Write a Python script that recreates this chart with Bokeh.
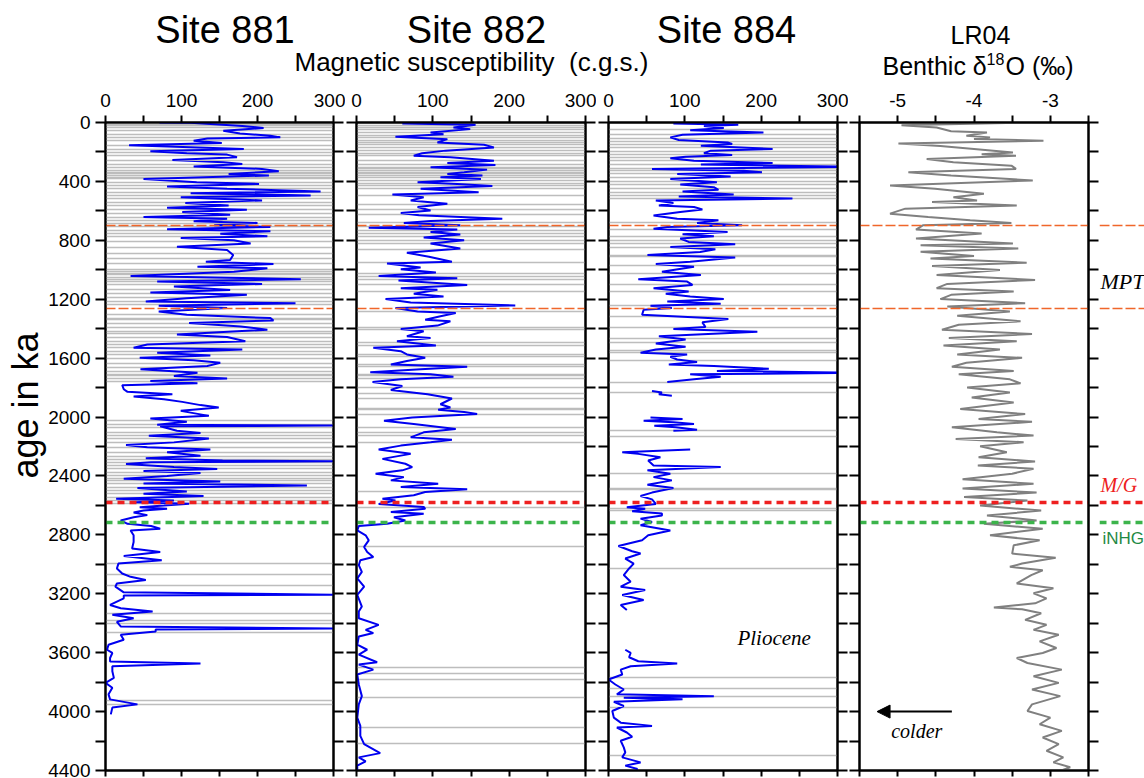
import math
from bokeh.plotting import figure
from bokeh.layouts import row, column
from bokeh.models import (Range1d, LinearAxis, FixedTicker, Label, Arrow,
                          NormalHead, CustomJSTickFormatter, Title)
from bokeh.embed import file_html
from bokeh.resources import INLINE

NaN = float("nan")

# ---------------- data (age in ka, value) ----------------
SITE881 = [(0,71),(2,112),(23,180),(38,208),(56,155),(74,177),(90,217),(101,230),(108,134),(124,116),(140,153),(155,31),(180,182),(196,59),(209,107),(218,160),(236,173),(254,88),(270,155),(281,180),(299,116),(315,206),(331,228),(349,162),(360,215),(383,50),(405,120),(417,202),(435,81),(450,160),(468,283),(480,112),(495,270),(507,99),(529,206),(547,105),(563,162),(579,81),(592,186),(608,101),(626,164),(642,50),(653,160),(671,116),(682,200),(698,143),(709,217),(725,81),(739,217),(755,151),(773,213),(784,99),(800,169),(822,191),(844,94),(866,160),(900,168),(934,164),(945,132),(961,221),(979,121),(990,213),(1013,169),(1042,33),(1050,125),(1065,257),(1080,68),(1096,206),(1114,90),(1137,164),(1154,59),(1170,186),(1193,107),(1215,53),(1227,250),(1244,70),(1260,160),(1283,70),(1305,107),(1328,217),(1344,221),(1362,110),(1385,178),(1407,213),(1440,94),(1456,160),(1485,184),(1508,55),(1530,37),(1541,180),(1564,68),(1582,138),(1598,45),(1614,116),(1632,151),(1654,134),(1676,46),(1699,121),(1721,90),(1739,160),(1755,59),(1771,121),(1784,22),(1811,24),(1829,29),(1845,88),(1861,37),(1879,77),(1897,101),(1919,125),(1935,149),(1958,99),(1970,112),(1992,136),(2010,59),(2032,107),(2052,68),(2058,300),(2063,72),(2093,94),(2109,125),(2127,57),(2145,136),(2172,90),(2190,27),(2205,55),(2221,138),(2239,81),(2262,125),(2279,53),(2295,154),(2301,300),(2307,60),(2318,27),(2340,90),(2352,147),(2367,50),(2380,125),(2401,81),(2419,24),(2437,151),(2452,50),(2464,265),(2482,42),(2505,107),(2520,50),(2536,129),(2554,14),(2566,90),(2578,40),(2588,110),(2601,77),(2612,45),(2622,81),(2635,50),(2648,37),(2666,55),(2680,37),(2702,20),(2725,29),(2740,60),(2758,72),(2770,33),(2803,37),(2848,37),(2893,35),(2916,72),(2943,24),(2972,74),(2995,17),(3028,15),(3062,22),(3085,33),(3107,53),(3130,15),(3152,13),(3190,24),(3206,300),(3212,24),(3231,24),(3276,6),(3298,20),(3321,62),(3343,9),(3366,37),(3390,15),(3422,20),(3436,300),(3442,66),(3456,66),(3478,20),(3512,24),(3546,4),(3580,2),(3602,9),(3636,6),(3660,6),(3674,125),(3692,9),(3726,9),(3771,11),(3805,0),(3838,9),(3883,4),(3917,6),(3951,42),(3973,9),(4019,7)]

SITE882 = [(7,60),(16,156),(34,127),(45,149),(68,97),(79,114),(97,51),(113,119),(135,106),(151,167),(169,180),(191,117),(209,86),(225,75),(236,123),(259,180),(275,119),(288,182),(304,97),(320,171),(338,141),(349,119),(360,165),(372,110),(383,163),(405,80),(417,132),(432,178),(450,84),(473,160),(489,47),(507,88),(529,71),(552,119),(574,80),(597,97),(615,58),(630,82),(653,191),(669,97),(682,62),(698,136),(714,16),(727,132),(743,97),(761,136),(781,88),(799,141),(822,97),(855,136),(884,66),(912,95),(945,125),(957,40),(984,84),(997,58),(1019,104),(1042,29),(1058,132),(1073,55),(1103,145),(1125,58),(1136,106),(1163,75),(1181,114),(1199,38),(1222,71),(1242,208),(1260,51),(1283,80),(1294,130),(1316,110),(1339,90),(1350,123),(1379,106),(1402,58),(1418,88),(1451,66),(1463,97),(1485,53),(1514,104),(1530,22),(1553,58),(1575,66),(1598,90),(1620,66),(1643,45),(1658,145),(1676,84),(1695,18),(1710,97),(1726,127),(1744,58),(1762,21),(1789,60),(1816,45),(1845,93),(1874,125),(1913,110),(1935,123),(1951,107),(1965,141),(1980,158),(2003,73),(2025,36),(2048,75),(2081,130),(2104,88),(2138,71),(2154,125),(2171,97),(2194,58),(2221,29),(2250,71),(2284,34),(2317,64),(2340,73),(2362,60),(2385,25),(2408,62),(2430,45),(2453,107),(2475,58),(2491,145),(2509,90),(2531,75),(2554,34),(2566,51),(2590,29),(2610,88),(2623,90),(2645,45),(2657,88),(2680,49),(2702,64),(2725,40),(2740,3),(2770,1),(2803,12),(2837,16),(2882,10),(2916,14),(2950,22),(2972,5),(3006,3),(3051,7),(3096,1),(3152,10),(3208,1),(3287,7),(3321,3),(3366,3),(3411,29),(3445,12),(3467,22),(3490,3),(3546,1),(3580,14),(3613,3),(3665,27),(3681,3),(3715,22),(3748,1),(3816,3),(3895,7),(3951,3),(4041,1),(4097,5),(4165,5),(4221,10),(4282,31),(4311,3),(4338,12),(4367,1),(4412,1)]

SITE884 = [(7,85),(16,170),(24,125),(38,151),(52,107),(68,203),(83,97),(101,81),(119,92),(135,156),(146,162),(158,121),(180,215),(191,134),(209,125),(221,162),(232,101),(243,81),(259,112),(275,215),(286,121),(298,300),(302,300),(315,57),(327,177),(338,201),(349,90),(367,160),(383,81),(405,142),(421,94),(439,138),(457,144),(468,97),(489,164),(502,92),(516,241),(529,62),(547,85),(563,66),(574,112),(590,123),(608,94),(631,59),(653,90),(664,144),(682,116),(698,175),(709,77),(721,59),(743,156),(759,97),(772,138),(788,94),(811,105),(826,166),(845,81),(860,140),(880,120),(900,51),(916,166),(945,107),(961,62),(979,112),(1013,70),(1035,121),(1065,39),(1080,103),(1103,110),(1125,59),(1148,105),(1163,75),(1181,107),(1199,151),(1215,77),(1231,147),(1245,55),(1260,83),(1272,46),(1305,44),(1335,157),(1357,123),(1389,127),(1402,85),(1420,195),(1451,66),(1474,101),(1501,62),(1523,101),(1541,62),(1564,42),(1575,103),(1591,81),(1609,90),(1627,116),(1643,79),(1654,138),(1672,210),(1688,142),(1697,300),(1701,300),(1710,107),(1726,147),(1744,112),(1762,77),(1790,NaN),(1823,57),(1834,70),(1845,66),(1856,83),(1900,NaN),(2003,55),(2014,97),(2025,46),(2036,85),(2048,112),(2059,60),(2070,88),(2086,116),(2093,85),(2150,NaN),(2221,107),(2239,18),(2250,39),(2273,68),(2295,52),(2329,59),(2340,147),(2362,51),(2385,81),(2408,59),(2430,83),(2459,51),(2482,85),(2513,57),(2536,42),(2559,57),(2590,62),(2612,24),(2623,48),(2640,31),(2655,70),(2668,70),(2690,42),(2713,57),(2735,42),(2770,81),(2803,52),(2837,44),(2876,13),(2911,31),(2927,42),(2961,22),(2995,33),(3028,27),(3073,20),(3118,29),(3152,16),(3175,48),(3208,18),(3242,46),(3276,16),(3310,24),(3450,NaN),(3580,22),(3602,29),(3631,27),(3658,39),(3674,90),(3692,29),(3715,16),(3748,18),(3782,0),(3816,9),(3850,20),(3883,11),(3895,138),(3906,20),(3917,97),(3933,7),(3962,20),(3996,5),(4041,7),(4075,16),(4097,57),(4108,11),(4142,24),(4171,31),(4198,16),(4243,20),(4277,22),(4311,18),(4345,42),(4367,22),(4390,38),(4412,24)]

LR04 = [(0,-3.23),(18,-4.95),(34,-4.49),(60,-4.3),(68,-3.83),(90,-4.1),(101,-3.79),(112,-4.0),(124,-3.09),(142,-4.99),(160,-4.44),(180,-4.0),(203,-3.49),(215,-3.9),(225,-3.45),(248,-4.62),(270,-4.27),(293,-3.51),(315,-3.45),(338,-4.86),(360,-4.3),(394,-3.23),(428,-5.1),(450,-4.51),(484,-3.87),(507,-4.27),(529,-3.96),(540,-4.55),(563,-3.44),(585,-4.9),(619,-5.1),(641,-4.6),(664,-4.05),(682,-3.51),(698,-4.67),(727,-4.76),(754,-3.9),(788,-4.76),(822,-3.49),(833,-4.7),(855,-3.42),(878,-4.7),(907,-4.0),(923,-4.57),(952,-3.31),(974,-4.55),(1001,-3.66),(1035,-4.49),(1069,-3.2),(1096,-4.35),(1125,-4.49),(1148,-3.48),(1170,-4.3),(1199,-4.44),(1227,-3.33),(1249,-4.35),(1283,-3.53),(1312,-4.22),(1350,-3.39),(1373,-4.2),(1407,-4.42),(1436,-3.24),(1463,-4.33),(1485,-3.44),(1515,-4.4),(1541,-3.66),(1575,-4.22),(1598,-3.37),(1631,-4.1),(1658,-4.29),(1688,-3.48),(1710,-4.2),(1744,-3.53),(1771,-3.39),(1800,-4.09),(1834,-3.53),(1868,-4.03),(1901,-3.48),(1946,-4.18),(1980,-3.33),(2014,-3.94),(2032,-3.24),(2070,-4.29),(2104,-3.7),(2126,-3.22),(2149,-4.24),(2171,-3.35),(2198,-3.92),(2239,-3.57),(2273,-3.94),(2302,-3.2),(2329,-3.95),(2351,-3.22),(2385,-3.5),(2423,-4.15),(2453,-3.22),(2486,-4.15),(2513,-3.18),(2543,-4.13),(2567,-3.3),(2601,-3.92),(2635,-3.12),(2668,-3.83),(2702,-3.18),(2725,-3.87),(2758,-3.1),(2803,-3.79),(2837,-3.14),(2871,-3.48),(2927,-3.5),(2956,-2.93),(2995,-3.37),(3017,-3.53),(3040,-3.1),(3073,-3.25),(3130,-3.44),(3163,-2.96),(3197,-3.22),(3231,-3.05),(3265,-3.2),(3294,-3.74),(3305,-3.37),(3332,-3.12),(3377,-3.33),(3411,-3.05),(3445,-3.22),(3478,-2.89),(3523,-3.14),(3568,-2.92),(3602,-3.1),(3636,-3.44),(3670,-3.3),(3715,-2.85),(3760,-3.22),(3805,-2.89),(3850,-3.24),(3895,-2.87),(3951,-3.24),(3996,-3.3),(4041,-3.0),(4086,-3.14),(4131,-2.85),(4176,-3.1),(4221,-2.89),(4266,-3.05),(4311,-2.83),(4345,-2.96),(4378,-2.74),(4412,-2.92)]

# ash-layer (tephra) horizons, ages in ka
ASH881 = [11,23,34,56,79,101,124,158,180,203,225,259,282,304,327,338,349,360,372,383,405,428,450,473,495,518,540,563,592,619,642,664,687,709,732,754,777,810,849,889,923,956,1001,1013,1024,1035,1051,1065,1080,1103,1132,1159,1186,1215,1238,1305,1328,1339,1362,1389,1418,1434,1463,1485,1508,1530,1553,1575,1605,1636,1665,1688,1710,1721,1739,1762,2025,2048,2070,2104,2126,2149,2176,2205,2239,2266,2289,2311,2329,2351,2374,2396,2414,2430,2453,2475,2498,2520,2543,2565,2590,2995,3069,3141,3332,3384,3400,3463,3928,3955]
ASH882 = [18,34,45,68,86,101,124,135,151,169,191,209,225,255,282,304,315,327,338,349,360,372,394,417,428,450,495,556,592,626,682,709,732,755,777,800,822,862,952,1024,1047,1065,1103,1148,1283,1395,1407,1492,1515,1575,1591,1643,1654,1710,1721,1739,1800,1839,1874,1942,1951,1980,2070,2104,2126,2176,2504,2617,2878,3699,3744,3782,3906,4108,4217]
ASH884 = [45,83,106,128,146,173,196,218,236,259,282,309,327,349,372,399,421,451,473,495,518,682,727,772,799,822,849,900,911,974,1024,1103,1148,1245,1317,1389,1470,1497,1546,1560,1613,1766,1834,2093,2131,2385,2482,2491,2623,2635,3028,3771,3845,3899,3969,4295]

# event horizons (ka)
MPT_LINES = [700, 1260]
MG_BOUNDARY = [2580]
INHG = [2715]

AGE_TICKS = list(range(0, 4401, 400))
AGE_MINOR = list(range(200, 4400, 400))
MS_TICKS = [0, 100, 200, 300]
MS_MINOR = [50, 150, 250]
D18_TICKS = [-5, -4, -3]
D18_MINOR = [-5.5, -4.5, -3.5, -2.5]

# ---------------- layout ----------------
HEAD = 83          # header strip with titles
PTOP = 122 - HEAD  # panel border above the frame (tick labels)
BOTTOM = 8
H = 778 - HEAD
FONT = "Liberation Sans"
SERIF = "Liberation Serif"
BLUE = "#0000f0"
ORANGE = "#f0662a"
RED = "#ee2020"
GREEN = "#3cb44b"


def split(pairs):
    return [a for a, _ in pairs], [v for _, v in pairs]


def style_axis(ax, tick_out, labels=True, standoff=5):
    ax.axis_line_width = 2
    ax.axis_line_color = "black"
    ax.major_tick_line_width = 2
    ax.minor_tick_line_width = 2
    ax.major_tick_line_color = "black"
    ax.minor_tick_line_color = "black"
    ax.major_tick_in = 0
    ax.minor_tick_in = 0
    ax.major_tick_out = tick_out
    ax.minor_tick_out = tick_out
    ax.major_label_text_font = FONT
    ax.major_label_text_font_size = "19px"
    ax.major_label_text_color = "black"
    ax.major_label_standoff = standoff
    if not labels:
        ax.formatter = CustomJSTickFormatter(code="return ''")
        ax.major_label_standoff = 0
        ax.major_label_text_font_size = "0px"


def bare(width, left, right, xr):
    p = figure(width=width, height=H, x_range=xr, y_range=Range1d(4400, 0),
               output_backend="svg", toolbar_location=None, title_location=None,
               x_axis_location=None, y_axis_location=None,
               min_border_left=left, min_border_right=right,
               min_border_top=PTOP, min_border_bottom=BOTTOM)
    p.grid.visible = False
    p.background_fill_color = "white"
    p.border_fill_color = "white"
    return p


def make_panel(width, left, right, xr, xticks, xminor, ylabels=False, xfmt=None):
    p = bare(width, left, right, xr)
    p.outline_line_color = "black"
    p.outline_line_width = 2
    top = LinearAxis(ticker=FixedTicker(ticks=xticks, minor_ticks=xminor))
    style_axis(top, 7, True, 9)
    if xfmt is not None:
        top.formatter = xfmt
    p.add_layout(top, "above")
    bot = LinearAxis(ticker=FixedTicker(ticks=xticks, minor_ticks=xminor))
    style_axis(bot, 6, False)
    p.add_layout(bot, "below")
    lft = LinearAxis(ticker=FixedTicker(ticks=AGE_TICKS, minor_ticks=AGE_MINOR))
    style_axis(lft, 10, ylabels, 5)
    p.add_layout(lft, "left")
    rgt = LinearAxis(ticker=FixedTicker(ticks=AGE_TICKS, minor_ticks=AGE_MINOR))
    style_axis(rgt, 10, False)
    p.add_layout(rgt, "right")
    return p


def event_lines(p):
    p.hspan(y=MPT_LINES, line_color=ORANGE, line_width=1.5, line_dash="10 3")
    p.hspan(y=MG_BOUNDARY, line_color=RED, line_width=3.5, line_dash="7 5")
    p.hspan(y=INHG, line_color=GREEN, line_width=3.5, line_dash="7 5")


def lbl(p, x, y, text, size, align="center", baseline="middle",
        font=FONT, style="normal", color="black", angle=0):
    p.add_layout(Label(x=x, y=y, text=text, text_font=font,
                       text_font_size=f"{size}px", text_font_style=style,
                       text_color=color, text_align=align,
                       text_baseline=baseline, angle=angle))


def head_lbl(p, x, base, text, size, align="center"):
    # place a header text so that its baseline sits at pixel row `base`
    lbl(p, x, base - 0.42 * size, text, size, align=align)


W1, L1, R1 = 345, 105, 12
W2, L2, R2 = 251, 11, 11
W3, L3, R3 = 252, 12, 11
W4, L4, R4 = 251, 11, 11
W5 = 1144 - W1 - W2 - W3 - W4

p1 = make_panel(W1, L1, R1, Range1d(0, 300), MS_TICKS, MS_MINOR, ylabels=True)
p2 = make_panel(W2, L2, R2, Range1d(0, 300), MS_TICKS, MS_MINOR)
p3 = make_panel(W3, L3, R3, Range1d(0, 300), MS_TICKS, MS_MINOR)
p4 = make_panel(W4, L4, R4, Range1d(-5.5, -2.5), D18_TICKS, D18_MINOR,
                xfmt=CustomJSTickFormatter(code="return tick.toFixed(0)"))
p5 = bare(W5, 0, 0, Range1d(0, W5))
p5.outline_line_color = None

ash_style = dict(line_color="#bdbdbd", line_width=1.5)
p1.hspan(y=ASH881, **ash_style)
p2.hspan(y=ASH882, **ash_style)
p3.hspan(y=ASH884, **ash_style)

for p, data in ((p1, SITE881), (p2, SITE882), (p3, SITE884)):
    ages, vals = split(data)
    p.line(x=vals, y=ages, line_color=BLUE, line_width=2)

lr_age, lr_val = split(LR04)
p4.line(x=lr_val, y=lr_age, line_color="#808080", line_width=2)

for p in (p1, p2, p3, p4, p5):
    event_lines(p)

# y-axis title on the left of the first panel (starts 292 px above frame bottom)
p1.add_layout(Title(text="age in ka", align="left", offset=292, standoff=0,
                    text_font=FONT, text_font_size="36px",
                    text_font_style="normal", text_color="black"), "left")

# annotations inside the panels
lbl(p3, 217, 3500, "Pliocene", 21, font=SERIF, style="italic")
lbl(p4, -4.75, 4130, "colder", 20, font=SERIF, style="italic")
p4.add_layout(Arrow(x_start=-4.29, y_start=4000, x_end=-5.27, y_end=4000,
                    line_color="black", line_width=2,
                    end=NormalHead(size=13, fill_color="black", line_color="black")))

# labels in the right margin strip
lbl(p5, 1, 1080, "MPT", 22, align="left", font=SERIF, style="italic")
lbl(p5, 1, 2460, "M/G", 20, align="left", font=SERIF, style="italic", color=RED)
lbl(p5, 3, 2825, "iNHG", 17, align="left", color="#1f8a45")

# header strip with the titles (pixel coordinates)
head = figure(width=1144, height=HEAD, x_range=Range1d(0, 1144),
              y_range=Range1d(HEAD, 0), output_backend="svg",
              toolbar_location=None, title_location=None,
              x_axis_location=None, y_axis_location=None,
              min_border_left=0, min_border_right=0, min_border_top=0,
              min_border_bottom=0)
head.grid.visible = False
head.outline_line_color = None

head_lbl(head, 224.5, 45, "Site 881", 38)
head_lbl(head, 476, 45, "Site 882", 38)
head_lbl(head, 726, 45, "Site 884", 38)
head_lbl(head, 471, 72, "Magnetic susceptibility\u00a0\u00a0(c.g.s.)", 26)
head_lbl(head, 980, 45, "LR04", 25)
head_lbl(head, 882, 76, "Benthic \u03b4", 25, align="left")
head_lbl(head, 986, 65, "18", 16, align="left")
head_lbl(head, 1005, 76, "O (\u2030)", 25, align="left")

layout = column(head, row(p1, p2, p3, p4, p5, spacing=0), spacing=0)
open("out.html", "w").write(file_html(layout, INLINE))
